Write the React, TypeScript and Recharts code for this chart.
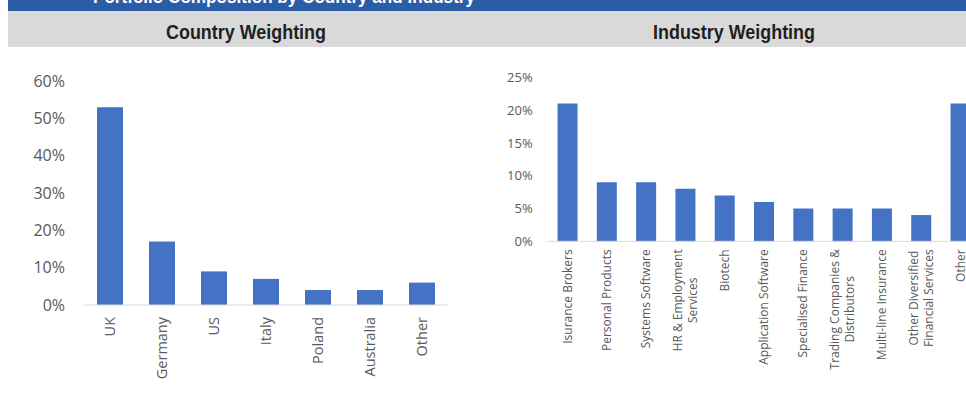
import React from 'react';
import { BarChart, Bar, XAxis, YAxis } from 'recharts';

const countries = ['UK', 'Germany', 'US', 'Italy', 'Poland', 'Australia', 'Other'];
const countryWeights = [53, 17, 9, 7, 4, 4, 6];
const countryTicks = [0, 10, 20, 30, 40, 50, 60];

const industries = [
  'Isurance Brokers',
  'Personal Products',
  'Systems Software',
  'HR & Employment\nServices',
  'Biotech',
  'Application Software',
  'Specialised Finance',
  'Trading Companies &\nDistributors',
  'Multi-line Insurance',
  'Other Diversified\nFinancial Services',
  'Other',
];
const industryWeights = [21, 9, 9, 8, 7, 6, 5, 5, 5, 4, 21];
const industryTicks = [0, 5, 10, 15, 20, 25];

const headerTitle = 'Portfolio Composition by Country and Industry';
const leftTitle = 'Country Weighting';
const rightTitle = 'Industry Weighting';

const countryData = countries.map((name, i) => ({ name, value: countryWeights[i] }));
const industryData = industries.map((name, i) => ({ name, value: industryWeights[i] }));

const BAR = '#4472c4';
const TXT = '#595959';
const FONT = 'Open Sans';
const TITLE_FONT = "'Liberation Sans', Arial, sans-serif";

let canvasCtx: CanvasRenderingContext2D | null = null;
function measure(text: string, size: number): number {
  if (typeof document === 'undefined') return text.length * size * 0.5;
  if (!canvasCtx) canvasCtx = document.createElement('canvas').getContext('2d');
  if (!canvasCtx) return text.length * size * 0.5;
  canvasCtx.font = `${size}px "${FONT}"`;
  return canvasCtx.measureText(text).width;
}

const makeTick = (fontSize: number, lineHeight: number) => (props: any) => {
  const { x, y, payload } = props;
  const lines = String(payload.value).split('\n');
  const n = lines.length;
  const maxW = Math.max(...lines.map((l) => measure(l, fontSize)));
  return (
    <g transform={`translate(${x},${y}) rotate(-90)`}>
      <text x={0} y={0} textAnchor="middle" fill={TXT} fontSize={fontSize} fontFamily={FONT}>
        {lines.map((l, i) => (
          <tspan
            key={i}
            x={-maxW / 2}
            dy={i === 0 ? 0.35 * fontSize - ((n - 1) * lineHeight) / 2 : lineHeight}
          >
            {l}
          </tspan>
        ))}
      </text>
    </g>
  );
};

const LeftTick = makeTick(14.5, 18);
const RightTick = makeTick(12, 15.5);

export default function App() {
  return (
    <div
      style={{
        position: 'fixed',
        left: 0,
        top: 0,
        width: 966,
        height: 401,
        overflow: 'hidden',
        background: '#ffffff',
      }}
    >
      <svg
        width={958}
        height={11}
        style={{ position: 'absolute', left: 8, top: 0, display: 'block' }}
      >
        <rect x={0} y={0} width={958} height={11} fill="#2b5ca6" />
        <text
          x={85}
          y={3}
          fill="#ffffff"
          fontFamily={TITLE_FONT}
          fontWeight="bold"
          fontSize={19}
          textLength={382}
          lengthAdjust="spacingAndGlyphs"
        >
          {headerTitle}
        </text>
      </svg>
      <svg
        width={958}
        height={36}
        style={{ position: 'absolute', left: 8, top: 11, display: 'block' }}
      >
        <rect x={0} y={0} width={958} height={36} fill="#d9d9d9" />
        <text
          x={158}
          y={28}
          fill="#1f1f1f"
          fontFamily={TITLE_FONT}
          fontWeight="bold"
          fontSize={21}
          textLength={160}
          lengthAdjust="spacingAndGlyphs"
        >
          {leftTitle}
        </text>
        <text
          x={645}
          y={28}
          fill="#1f1f1f"
          fontFamily={TITLE_FONT}
          fontWeight="bold"
          fontSize={21}
          textLength={162}
          lengthAdjust="spacingAndGlyphs"
        >
          {rightTitle}
        </text>
      </svg>

      <div style={{ position: 'absolute', left: 0, top: 60 }}>
        <BarChart
          width={460}
          height={340}
          data={countryData}
          margin={{ top: 21, right: 12, bottom: 0, left: 0 }}
          barCategoryGap="25%"
        >
          <XAxis
            dataKey="name"
            height={95}
            interval={0}
            axisLine={{ stroke: '#d9d9d9', strokeWidth: 1 }}
            tickLine={false}
            tickSize={0}
            tickMargin={12}
            tick={LeftTick}
          />
          <YAxis
            width={84}
            domain={[0, 60]}
            ticks={countryTicks}
            interval={0}
            tickFormatter={(v: number) => `${v}%`}
            axisLine={false}
            tickLine={false}
            tickSize={0}
            tickMargin={19}
            tick={{ fill: TXT, fontSize: 16, fontFamily: FONT }}
          />
          <Bar dataKey="value" fill={BAR} isAnimationActive={false} />
        </BarChart>
      </div>

      <div style={{ position: 'absolute', left: 470, top: 60 }}>
        <BarChart
          width={510}
          height={340}
          data={industryData}
          margin={{ top: 17.3, right: 0, bottom: 0, left: 0 }}
          barCategoryGap="25%"
        >
          <XAxis
            dataKey="name"
            height={158.7}
            interval={0}
            axisLine={{ stroke: '#d9d9d9', strokeWidth: 1 }}
            tickLine={false}
            tickSize={0}
            tickMargin={8}
            tick={RightTick}
          />
          <YAxis
            width={77.7}
            domain={[0, 25]}
            ticks={industryTicks}
            interval={0}
            tickFormatter={(v: number) => `${v}%`}
            axisLine={false}
            tickLine={false}
            tickSize={0}
            tickMargin={15}
            tick={{ fill: TXT, fontSize: 13, fontFamily: FONT }}
          />
          <Bar dataKey="value" fill={BAR} isAnimationActive={false} />
        </BarChart>
      </div>
    </div>
  );
}
